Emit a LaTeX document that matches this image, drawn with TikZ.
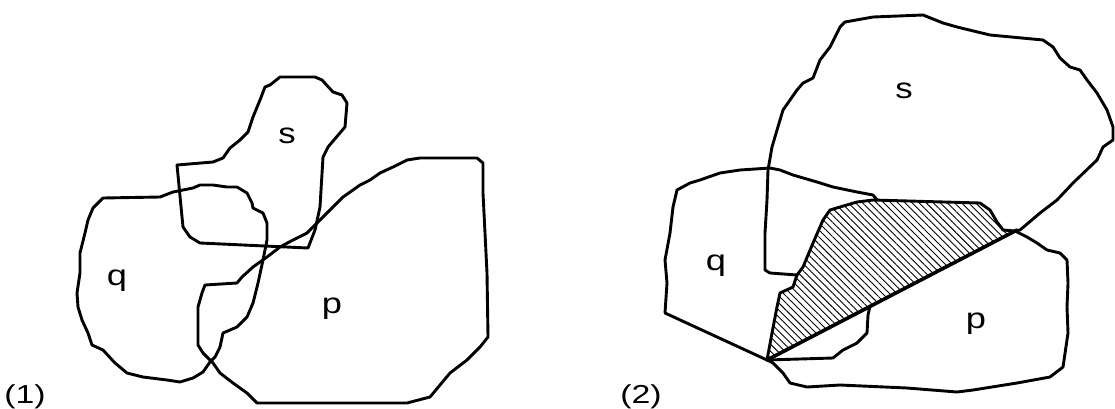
\documentclass[tikz,border=0pt]{standalone}
\usepackage{fontspec}
\setmainfont{Liberation Sans}
\usetikzlibrary{patterns.meta}
\newcommand{\wide}[2]{\scalebox{#1}[1]{#2}}
\begin{document}
\begin{tikzpicture}[x=1pt,y=-1pt,
  outline/.style={line width=2.9pt,line join=round,line cap=round},
  lbl/.style={anchor=base,inner sep=0pt,font=\fontsize{29}{31}\selectfont},
  num/.style={anchor=base,inner sep=0pt,font=\fontsize{26}{28}\selectfont}]
\useasboundingbox (0,0) rectangle (1115,408);
% ---------- panel 1 ----------
\draw[outline] (177,165) -- (183,227) -- (190,237) -- (200,243) -- (308,248) -- (315,230) -- (320,207) -- (323,157) -- (328,147) -- (345,127) -- (347,103) -- (342,95) -- (333,92) -- (322,80) -- (315,77) -- (280,77) -- (270,85) -- (265,87) -- (260,100) -- (253,117) -- (248,132) -- (240,140) -- (230,148) -- (223,158) -- (213,162) -- cycle;
\draw[outline] (103,198) -- (160,197) -- (173,192) -- (193,188) -- (200,185) -- (213,185) -- (227,187) -- (237,187) -- (247,193) -- (252,203) -- (253,208) -- (263,213) -- (267,223) -- (267,240) -- (263,260) -- (258,283) -- (253,303) -- (247,317) -- (237,327) -- (230,330) -- (223,333) -- (220,347) -- (215,357) -- (210,362) -- (203,372) -- (193,378) -- (180,382) -- (167,380) -- (143,377) -- (127,373) -- (115,363) -- (103,350) -- (92,345) -- (88,333) -- (82,320) -- (78,307) -- (77,293) -- (80,273) -- (80,253) -- (85,233) -- (88,220) -- (93,208) -- cycle;
\draw[outline] (205,285) -- (237,283) -- (242,277) -- (253,267) -- (267,257) -- (280,247) -- (293,240) -- (307,233) -- (317,223) -- (330,210) -- (343,197) -- (353,190) -- (360,185) -- (370,180) -- (380,173) -- (393,167) -- (407,160) -- (420,158) -- (477,158) -- (483,163) -- (483,193) -- (487,273) -- (488,337) -- (480,347) -- (467,360) -- (450,373) -- (430,397) -- (407,403) -- (257,403) -- (247,393) -- (233,383) -- (220,373) -- (213,363) -- (203,353) -- (198,345) -- (198,307) -- (202,293) -- cycle;
\node[lbl] (s1) at (287,143) {\wide{1.2}{s}};
\node[lbl] (q1) at (117,285) {\wide{1.25}{q}};
\node[lbl] (p1) at (332,313) {\wide{1.25}{p}};
\node[num] (n1) at (25,403) {\wide{1.3}{(1)}};
% ---------- panel 2 ----------
\fill[pattern={Lines[angle=-45,distance=5pt,line width=0.9pt]}] (1015,231) -- (1003,230) -- (997,222) -- (990,210) -- (980,203) -- (873,200) -- (857,202) -- (840,207) -- (830,210) -- (823,220) -- (813,243) -- (803,267) -- (797,275) -- (793,287) -- (780,293) -- (777,307) -- (772,333) -- (767,360) -- cycle;
\draw[outline] (765,270) -- (765,233) -- (767,200) -- (768,170) -- (772,147) -- (777,130) -- (783,110) -- (797,90) -- (803,83) -- (813,78) -- (820,60) -- (830,47) -- (840,27) -- (845,22) -- (873,17) -- (923,15) -- (943,23) -- (957,27) -- (990,35) -- (1043,40) -- (1053,47) -- (1060,58) -- (1070,67) -- (1080,70) -- (1087,80) -- (1097,93) -- (1107,110) -- (1113,127) -- (1113,140) -- (1103,147) -- (1097,160) -- (1073,183) -- (1057,200) -- (1040,213) -- (1020,230) -- (1015,231) -- (1003,230) -- (997,222) -- (990,210) -- (980,203) -- (873,200) -- (857,202) -- (840,207) -- (830,210) -- (823,220) -- (813,243) -- (803,267) -- (797,275) -- (770,273) -- cycle;
\draw[outline] (797,275) -- (793,287) -- (780,293) -- (777,307) -- (772,333) -- (767,360);
\draw[outline] (877,200) -- (873,195) -- (857,192) -- (833,187) -- (817,182) -- (793,175) -- (780,170) -- (770,168) -- (740,170) -- (720,173) -- (700,180) -- (690,183) -- (677,190) -- (673,207) -- (670,233) -- (665,260) -- (667,283) -- (665,313) -- (767,360);
\draw[outline] (767,360) -- (833,358) -- (843,350) -- (857,343) -- (867,333) -- (868,315) -- (870,306);
\draw[outline] (1015,231) -- (1027,237) -- (1037,243) -- (1047,250) -- (1060,253) -- (1067,260) -- (1068,283) -- (1067,307) -- (1068,333) -- (1063,367) -- (1050,377) -- (1017,383) -- (973,390) -- (957,392) -- (907,388) -- (840,385) -- (807,387) -- (790,383) -- (783,373) -- (773,363) -- (767,360);
\draw[line width=3.6pt,line cap=round] (767,360) -- (1017,230);
\node[lbl] (s2) at (904,98) {\wide{1.2}{s}};
\node[lbl] (q2) at (716,270) {\wide{1.25}{q}};
\node[lbl] (p2) at (976,328) {\wide{1.25}{p}};
\node[num] (n2) at (641,403) {\wide{1.3}{(2)}};
\end{tikzpicture}
\end{document}
